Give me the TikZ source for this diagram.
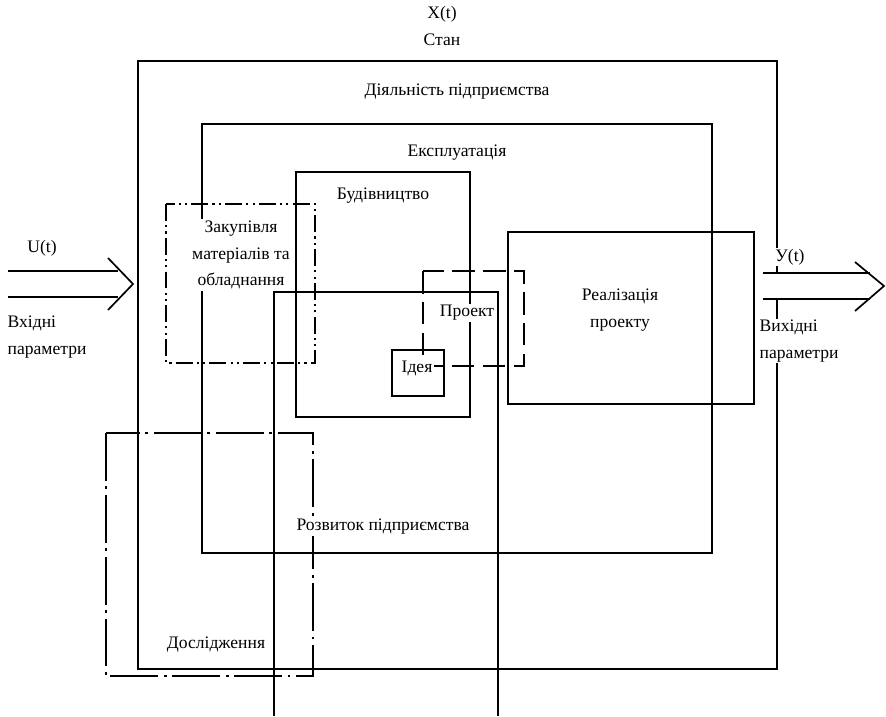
\documentclass[tikz,border=0pt]{standalone}
\usepackage{fontspec}
\setmainfont{Liberation Serif}
\usetikzlibrary{positioning}

\begin{document}
\begin{tikzpicture}[
    x=0.025cm, y=-0.025cm,
    lbl/.style={fill=white, inner sep=1pt, align=center, font=\fontsize{12.5}{19}\selectfont},
    frame/.style={line width=1.3pt},
    thinframe/.style={line width=1pt},
    dashdotdot/.style={line width=1.3pt, dash pattern=on 12pt off 3pt on 1.5pt off 3pt on 1.5pt off 3pt},
    dashdotlong/.style={line width=1.3pt, dash pattern=on 34pt off 4pt on 2pt off 4pt},
    longdash/.style={line width=1.3pt, dash pattern=on 16pt off 6pt},
    flow/.style={line width=1.2pt, double distance=17.5pt},
    chevron/.style={line width=1.2pt}
]
    \useasboundingbox (0,0) rectangle (886,716);

    % Nested areas of the enterprise
    \draw[frame] (138,61) rectangle (777,669);
    \draw[frame] (202,124) rectangle (712,553);
    \draw[frame] (296,172) rectangle (470,417);
    \draw[thinframe] (508,232) rectangle (754,404);
    \draw[frame] (392,350) rectangle (444,396);

    % Development area runs off the bottom
    \draw[frame] (274,716) -- (274,292) -- (498,292) -- (498,716);

    % Broken-line areas
    \draw[dashdotdot] (166,204) rectangle (315,363);
    \draw[dashdotlong] (106,433) rectangle (313,676);
    \draw[longdash] (423,271) rectangle (524,366);

    % Labels
    \node[lbl] (state) at (442,14) {X(t)};
    \node[lbl, below=6pt of state] (stan) {Стан};
    \node[lbl] (activity) at (457,92) {Діяльність підприємства};
    \node[lbl] (exploit) at (457,153) {Експлуатація};
    \node[lbl] (build) at (383,196) {Будівництво};
    \node[lbl] (purchase) at (241,255) {Закупівля\\матеріалів та\\обладнання};
    \node[lbl] (project) at (467,313) {Проект};
    \node[lbl] (idea) at (417,368) {Ідея};
    \node[lbl] (realise) at (620,310) {Реалізація\\проекту};
    \node[lbl] (growth) at (383,527) {Розвиток підприємства};
    \node[lbl] (research) at (216,645) {Дослідження};

    % Input
    \node[lbl] (uin) at (42,248) {U(t)};
    \node[lbl, align=left, anchor=west] (inparams) at (6,337) {Вхідні\\параметри};
    \coordinate (instart) at (8,284);
    \coordinate (inend) at (118,284);
    \coordinate (intip) at (133,284);
    \draw[flow] (instart) -- (inend);
    \draw[chevron] (intip) ++(-25,-26) -- (intip) -- ++(-25,26);

    % Output
    \node[lbl] (yout) at (790,257) {У(t)};
    \node[lbl, align=left, anchor=west] (outparams) at (758,341) {Вихідні\\параметри};
    \coordinate (outstart) at (763,286);
    \coordinate (outend) at (870,286);
    \coordinate (outtip) at (884,286);
    \draw[flow] (outstart) -- (outend);
    \draw[chevron] (outtip) ++(-29,-24) -- (outtip) -- ++(-29,25);
\end{tikzpicture}
\end{document}
